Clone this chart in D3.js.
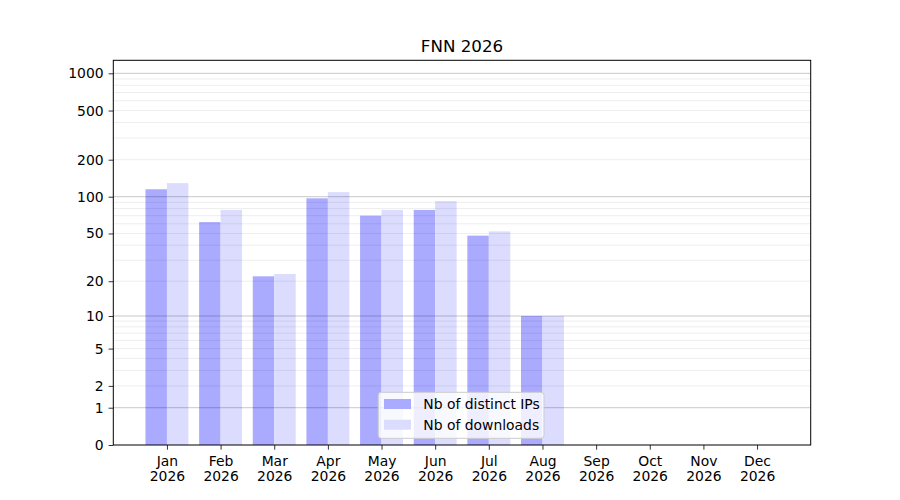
<!DOCTYPE html>
<html>
<head>
<meta charset="utf-8">
<script src="https://cdn.jsdelivr.net/npm/d3@7"></script>
<style>
  body { margin: 0; background: #fff; }
  svg, svg text { font-family: "DejaVu Sans", sans-serif; }
</style>
</head>
<body>
<div id="chart"></div>
<script>
// data
var months = ["Jan", "Feb", "Mar", "Apr", "May", "Jun", "Jul", "Aug", "Sep", "Oct", "Nov", "Dec"];
var year = "2026";
var distinctIPs = [115, 62, 22, 97, 70, 78, 48, 10];
var downloads = [129, 78, 23, 109, 78, 92, 52, 10];
var yTicks = [0, 1, 2, 5, 10, 20, 50, 100, 200, 500, 1000];
var majorGrid = [1, 10, 100, 1000];
var minorGrid = [2, 3, 4, 5, 6, 7, 8, 9, 20, 30, 40, 50, 60, 70, 80, 90,
                 200, 300, 400, 500, 600, 700, 800, 900];

var W = 900, H = 500;
var plotLeft = 113.3, plotRight = 810.7, plotTop = 60.3, plotBottom = 445;
var fs = "13.9px";

var svg = d3.select("#chart").append("svg")
    .attr("width", W)
    .attr("height", H);

var x = d3.scaleLinear().domain([-1, 12]).range([plotLeft, plotRight]);
var y = d3.scaleSymlog().constant(1).domain([0, 1274]).range([plotBottom, plotTop]);

var barW = 0.4;

// bars
svg.append("g").selectAll("rect")
  .data(distinctIPs)
  .enter().append("rect")
    .attr("x", function(d, i) { return x(i - barW); })
    .attr("width", function(d, i) { return x(i) - x(i - barW); })
    .attr("y", function(d) { return y(d); })
    .attr("height", function(d) { return y(0) - y(d); })
    .style("fill", "#aaaaff");

svg.append("g").selectAll("rect")
  .data(downloads)
  .enter().append("rect")
    .attr("x", function(d, i) { return x(i); })
    .attr("width", function(d, i) { return x(i + barW) - x(i); })
    .attr("y", function(d) { return y(d); })
    .attr("height", function(d) { return y(0) - y(d); })
    .style("fill", "#dcdcff");

// grid on top of the bars
svg.append("g").selectAll("line")
  .data(minorGrid)
  .enter().append("line")
    .attr("x1", plotLeft).attr("x2", plotRight)
    .attr("y1", function(d) { return y(d); })
    .attr("y2", function(d) { return y(d); })
    .style("stroke", "#000")
    .style("stroke-opacity", 0.07)
    .style("stroke-width", 1);

svg.append("g").selectAll("line")
  .data(majorGrid)
  .enter().append("line")
    .attr("x1", plotLeft).attr("x2", plotRight)
    .attr("y1", function(d) { return y(d); })
    .attr("y2", function(d) { return y(d); })
    .style("stroke", "#000")
    .style("stroke-opacity", 0.22)
    .style("stroke-width", 1);

// axes
var xAxis = d3.axisBottom(x)
    .tickValues(d3.range(months.length))
    .tickSize(4.7)
    .tickPadding(6)
    .tickFormat(function(d) { return months[d]; });

var gx = svg.append("g")
    .attr("transform", "translate(0," + plotBottom + ")")
    .call(xAxis)
    .attr("font-family", null);
gx.select(".domain").remove();
gx.selectAll("text")
    .style("font-size", fs)
    .style("fill", "#000")
    .each(function(d) {
      var t = d3.select(this);
      t.text(null);
      t.append("tspan").attr("x", 0).attr("dy", "0.71em").text(months[d]);
      t.append("tspan").attr("x", 0).attr("dy", "1.14em").text(year);
    });
gx.selectAll("line").style("stroke", "#000").style("stroke-width", 0.8);

var yAxis = d3.axisLeft(y)
    .tickValues(yTicks)
    .tickSize(4.7)
    .tickPadding(5)
    .tickFormat(d3.format("d"));

var gy = svg.append("g")
    .attr("transform", "translate(" + plotLeft + ",0)")
    .call(yAxis)
    .attr("font-family", null);
gy.select(".domain").remove();
gy.selectAll("text").style("font-size", fs).style("fill", "#000");
gy.selectAll("line").style("stroke", "#000").style("stroke-width", 0.8);

// frame
svg.append("rect")
    .attr("x", plotLeft).attr("y", plotTop)
    .attr("width", plotRight - plotLeft).attr("height", plotBottom - plotTop)
    .style("fill", "none")
    .style("stroke", "#000")
    .style("stroke-width", 1);

// title
svg.append("text")
    .attr("x", (plotLeft + plotRight) / 2)
    .attr("y", 52.3)
    .attr("text-anchor", "middle")
    .style("font-size", "16.7px")
    .text("FNN " + year);

// legend
var legendItems = [
  {label: "Nb of distinct IPs", color: "#aaaaff"},
  {label: "Nb of downloads", color: "#dcdcff"}
];
var lg = svg.append("g").attr("transform", "translate(378.3,392.3)");
lg.append("rect")
    .attr("width", 165.7).attr("height", 46)
    .attr("rx", 3).attr("ry", 3)
    .style("fill", "#fff")
    .style("fill-opacity", 0.8)
    .style("stroke", "#cccccc")
    .style("stroke-width", 1);
legendItems.forEach(function(it, i) {
  lg.append("rect")
      .attr("x", 5.7).attr("y", 6.7 + i * 20.7)
      .attr("width", 27).attr("height", 10)
      .style("fill", it.color);
  lg.append("text")
      .attr("x", 45)
      .attr("y", 11.7 + i * 20.7)
      .attr("dy", "0.36em")
      .style("font-size", fs)
      .text(it.label);
});
</script>
</body>
</html>
